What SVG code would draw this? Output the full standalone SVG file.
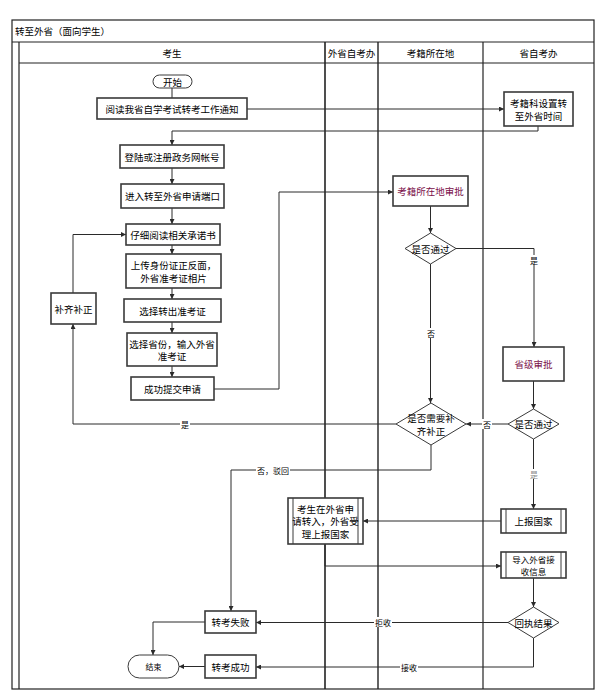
<svg xmlns="http://www.w3.org/2000/svg" width="606" height="699" viewBox="0 0 606 699">
<style>
  text { font-family: "Noto Sans CJK SC", "Noto Sans", sans-serif; font-size: 9.5px; fill: #000; }
  .t { text-anchor: middle; dominant-baseline: central; }
  .hdr { font-size: 9.5px; }
  .lbl { font-size: 8px; text-anchor: middle; dominant-baseline: central; }
  .purple { fill: #7a0f4a; }
  .box { fill: #fff; stroke: #3a3a3a; stroke-width: 1.6; }
  .dia { fill: #fff; stroke: #3a3a3a; stroke-width: 1; }
  .lane { fill: none; stroke: #222; stroke-width: 1.2; }
  .conn path { fill: none; stroke: #2a2a2a; stroke-width: 1; }
  .sub { fill: none; stroke: #3a3a3a; stroke-width: 1; }
  .lb { fill: #fff; }
</style>
<defs>
  <marker id="arr" viewBox="0 0 6 6" refX="6" refY="3" markerWidth="5" markerHeight="5" orient="auto" markerUnits="userSpaceOnUse">
    <path d="M0,0 L6,3 L0,6 z" fill="#2a2a2a"/>
  </marker>
</defs>
<rect width="606" height="699" fill="#fff"/>

<!-- pool / lanes -->
<g id="pool">
  <rect class="lane" x="12" y="20" width="582" height="669"/>
  <line class="lane" x1="12" y1="42" x2="594" y2="42"/>
  <line class="lane" x1="19" y1="42" x2="19" y2="689"/>
  <line class="lane" x1="19" y1="63" x2="594" y2="63"/>
  <line class="lane" x1="325" y1="42" x2="325" y2="689" style="stroke-width:1.6"/>
  <line class="lane" x1="378" y1="42" x2="378" y2="689" style="stroke-width:1.4"/>
  <line class="lane" x1="483" y1="42" x2="483" y2="689"/>
  <text x="15" y="31" style="dominant-baseline:central">转至外省（面向学生）</text>
  <text class="t hdr" x="172" y="52.5">考生</text>
  <text class="t hdr" x="351.5" y="52.5">外省自考办</text>
  <text class="t hdr" x="430.5" y="52.5">考籍所在地</text>
  <text class="t hdr" x="538.5" y="52.5">省自考办</text>
</g>

<!-- connectors -->
<g class="conn" id="connectors">
  <path d="M172,87 V98"/>
  <path d="M247,109 H504" marker-end="url(#arr)"/>
  <path d="M538,126 V131 H172 V145" marker-end="url(#arr)"/>
  <path d="M172,168 V184" marker-end="url(#arr)"/>
  <path d="M172,208 V224" marker-end="url(#arr)"/>
  <path d="M172,245 V254" marker-end="url(#arr)"/>
  <path d="M172,288 V299" marker-end="url(#arr)"/>
  <path d="M172,322 V333" marker-end="url(#arr)"/>
  <path d="M172,366 V377" marker-end="url(#arr)"/>
  <path d="M214,389 H279 V192 H393" marker-end="url(#arr)"/>
  <path d="M430.5,206 V233" marker-end="url(#arr)"/>
  <path d="M456,248.5 H534 V347" marker-end="url(#arr)"/>
  <path d="M430.5,264 V403" marker-end="url(#arr)"/>
  <path d="M533.5,381 V409" marker-end="url(#arr)"/>
  <path d="M508,424 H466" marker-end="url(#arr)"/>
  <path d="M396,424 H73 V324" marker-end="url(#arr)"/>
  <path d="M73,293 V234.5 H126" marker-end="url(#arr)"/>
  <path d="M431,445 V470 H231 V611" marker-end="url(#arr)"/>
  <path d="M533.5,439 V509" marker-end="url(#arr)"/>
  <path d="M501,521 H363" marker-end="url(#arr)"/>
  <path d="M325,544 V566 H501" marker-end="url(#arr)"/>
  <path d="M533.5,578 V607" marker-end="url(#arr)"/>
  <path d="M508,622.5 H256" marker-end="url(#arr)"/>
  <path d="M533.5,638 V667 H256" marker-end="url(#arr)"/>
  <path d="M205,666.5 H179" marker-end="url(#arr)"/>
  <path d="M205,622 H153 V655" marker-end="url(#arr)"/>
  <!-- connector labels -->
  <rect class="lb" x="529" y="255" width="10" height="10"/>
  <text class="lbl" x="534" y="260">是</text>
  <rect class="lb" x="426" y="328" width="10" height="10"/>
  <text class="lbl" x="431" y="333">否</text>
  <rect class="lb" x="482" y="419" width="10" height="10"/>
  <text class="lbl" x="487" y="424">否</text>
  <rect class="lb" x="180" y="419" width="10" height="10"/>
  <text class="lbl" x="185" y="424">是</text>
  <rect class="lb" x="256" y="465" width="34" height="10"/>
  <text class="lbl" x="273" y="470">否，驳回</text>
  <rect class="lb" x="529" y="469" width="10" height="10"/>
  <text class="lbl" x="534" y="474" style="fill:#888">是</text>
  <rect class="lb" x="374" y="617" width="18" height="10"/>
  <text class="lbl" x="383" y="622">拒收</text>
  <rect class="lb" x="400" y="662" width="18" height="10"/>
  <text class="lbl" x="409" y="667">接收</text>
</g>

<!-- nodes -->
<g id="start"><rect class="box" x="153" y="75" width="39" height="13" rx="6.5" style="stroke-width:1"/><text class="t" x="172.5" y="81.5">开始</text></g>
<g id="read-notice"><rect class="box" x="97" y="98" width="150" height="21"/><text class="t" x="172" y="108.5">阅读我省自学考试转考工作通知</text></g>
<g id="set-time"><rect class="box" x="504" y="92" width="69" height="34"/><text class="t" x="538.5" y="102.5">考籍科设置转</text><text class="t" x="538.5" y="115.5">至外省时间</text></g>
<g id="login"><rect class="box" x="120" y="145" width="104" height="23"/><text class="t" x="172" y="156.5">登陆或注册政务网帐号</text></g>
<g id="enter"><rect class="box" x="121" y="184" width="103" height="24"/><text class="t" x="172.5" y="196">进入转至外省申请端口</text></g>
<g id="read-promise"><rect class="box" x="126" y="224" width="94" height="21"/><text class="t" x="173" y="234.5">仔细阅读相关承诺书</text></g>
<g id="upload"><rect class="box" x="126" y="254" width="95" height="34"/><text class="t" x="173.5" y="264.5">上传身份证正反面，</text><text class="t" x="173.5" y="277.5">外省准考证相片</text></g>
<g id="choose-out"><rect class="box" x="124" y="299" width="97" height="23"/><text class="t" x="172.5" y="310.5">选择转出准考证</text></g>
<g id="choose-prov"><rect class="box" x="127" y="333" width="90" height="33"/><text class="t" x="172" y="343.5">选择省份，输入外省</text><text class="t" x="172" y="356">准考证</text></g>
<g id="submit"><rect class="box" x="131" y="377" width="83" height="23"/><text class="t" x="172.5" y="388.5">成功提交申请</text></g>
<g id="supplement"><rect class="box" x="51" y="293" width="45" height="31"/><text class="t" x="73.5" y="308.5">补齐补正</text></g>
<g id="local-review"><rect class="box" x="393" y="176" width="75" height="30"/><text class="t purple" x="430.5" y="191">考籍所在地审批</text></g>
<g id="pass1"><polygon class="dia" points="430.5,233 456,248.5 430.5,264 405,248.5"/><text class="t" x="430.5" y="248.5">是否通过</text></g>
<g id="prov-review"><rect class="box" x="503" y="347" width="61" height="34"/><text class="t purple" x="533.5" y="364">省级审批</text></g>
<g id="pass2"><polygon class="dia" points="533.5,409 559,424 533.5,439 508,424"/><text class="t" x="533.5" y="424">是否通过</text></g>
<g id="need-supp"><polygon class="dia" points="431,403 466,424 431,445 396,424"/><text class="t" x="431" y="417.5">是否需要补</text><text class="t" x="431" y="430.5">齐补正</text></g>
<g id="report"><rect class="box" x="501" y="509" width="65" height="24"/><line class="sub" x1="506" y1="509" x2="506" y2="533"/><line class="sub" x1="561" y1="509" x2="561" y2="533"/><text class="t" x="533.5" y="521">上报国家</text></g>
<g id="apply-in"><rect class="box" x="288" y="498" width="75" height="46"/><line class="sub" x1="293" y1="498" x2="293" y2="544"/><line class="sub" x1="358" y1="498" x2="358" y2="544"/><text class="t" x="325.5" y="508.5">考生在外省申</text><text class="t" x="325.5" y="521">请转入，外省受</text><text class="t" x="325.5" y="533.5">理上报国家</text></g>
<g id="import"><rect class="box" x="501" y="552" width="65" height="26"/><line class="sub" x1="506" y1="552" x2="506" y2="578"/><line class="sub" x1="561" y1="552" x2="561" y2="578"/><text class="t" x="533.5" y="558.6" style="font-size:8.5px">导入外省接</text><text class="t" x="533.5" y="571.2" style="font-size:8.5px">收信息</text></g>
<g id="receipt"><polygon class="dia" points="533.5,607 559,622.5 533.5,638 508,622.5"/><text class="t" x="533.5" y="622.5">回执结果</text></g>
<g id="fail"><rect class="box" x="205" y="611" width="51" height="22"/><text class="t" x="230.5" y="622">转考失败</text></g>
<g id="success"><rect class="box" x="205" y="655" width="51" height="23"/><text class="t" x="230.5" y="666.5">转考成功</text></g>
<g id="end"><rect class="box" x="128" y="655" width="51" height="23" rx="11.5" style="stroke-width:1"/><text class="t" x="153.5" y="666.5" style="font-size:8px">结束</text></g>
</svg>
